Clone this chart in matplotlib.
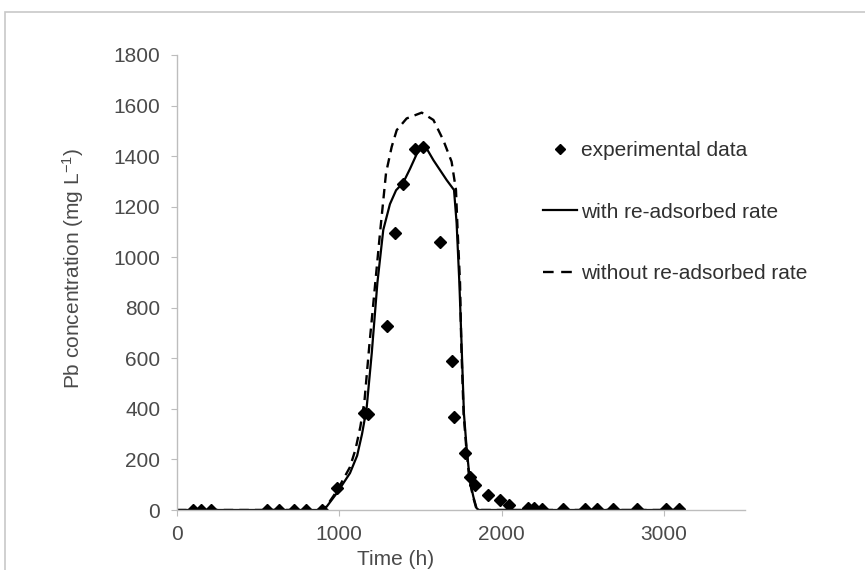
import matplotlib
matplotlib.use("Agg")
import matplotlib.pyplot as plt
from matplotlib.patches import Rectangle
from matplotlib.lines import Line2D

plt.rcParams['font.family'] = ['Liberation Sans', 'DejaVu Sans']
plt.rcParams['mathtext.fontset'] = 'custom'
plt.rcParams['mathtext.rm'] = 'Liberation Sans'
plt.rcParams['mathtext.it'] = 'Liberation Sans:italic'
plt.rcParams['mathtext.bf'] = 'Liberation Sans:bold'

# experimental data
exp_time = [100, 150, 210, 555, 630, 720, 795, 893, 986, 1150, 1180, 1294, 1343, 1393,
            1466, 1516, 1620, 1693, 1707, 1774, 1806, 1836, 1916, 1990, 2046,
            2160, 2200, 2250, 2378, 2514, 2588, 2686, 2834, 3013, 3093]
exp_conc = [0, 0, 0, 0, 0, 0, 0, 0, 87, 385, 378, 728, 1096, 1290,
            1428, 1436, 1060, 590, 368, 225, 130, 99, 59, 40, 20,
            8, 6, 5, 5, 3, 3, 3, 2, 2, 2]

# model: with re-adsorbed rate
with_time = [0, 880, 922, 985, 1066, 1110, 1140, 1168, 1200, 1235, 1271, 1312, 1350, 1394,
             1436, 1477, 1522, 1580, 1662, 1707, 1723, 1740, 1754, 1768, 1784, 1804,
             1826, 1846, 1860, 3100]
with_conc = [0, 0, 13, 67, 146, 215, 300, 400, 620, 900, 1108, 1210, 1265, 1295,
             1350, 1408, 1448, 1384, 1305, 1266, 1135, 898, 646, 382, 250, 119,
             53, 7, 0, 0]

# model: without re-adsorbed rate
without_time = [0, 880, 920, 985, 1066, 1100, 1130, 1155, 1185, 1222, 1251, 1288, 1323, 1354,
                1415, 1508, 1580, 1641, 1692, 1719, 1729, 1744, 1752, 1766, 1782, 1802,
                1824, 1844, 1858, 3100]
without_conc = [0, 0, 14, 75, 170, 240, 330, 430, 650, 900, 1096, 1333, 1437, 1503,
                1549, 1572, 1543, 1463, 1378, 1266, 1108, 898, 646, 382, 250, 119,
                53, 7, 0, 0]

x_ticks = [0, 1000, 2000, 3000]
y_ticks = [0, 200, 400, 600, 800, 1000, 1200, 1400, 1600, 1800]

W, H = 865, 570
FS = 15
fig = plt.figure(figsize=(W / 100, H / 100), dpi=100)
fig.patch.set_facecolor('white')

# outer frame
fig.patches.append(Rectangle((5 / W, -0.1), 1.2, (H - 12) / H + 0.1, transform=fig.transFigure,
                             fill=False, edgecolor='#c8c8c8', linewidth=1.2, zorder=0))

ax = fig.add_axes([177 / W, (H - 510) / H, (745 - 177) / W, (510 - 55) / H])

ax.plot(without_time, without_conc, color='black', linestyle=(0, (4, 2.6)), linewidth=1.7)
ax.plot(with_time, with_conc, color='black', linestyle='-', linewidth=1.6)
ax.plot(exp_time, exp_conc, linestyle='none', marker='D', markersize=6.3, color='black')

ax.set_xlim(0, 3500)
ax.set_ylim(0, 1800)
ax.set_xticks(x_ticks)
ax.set_yticks(y_ticks)

for s in ['top', 'right']:
    ax.spines[s].set_visible(False)
for s in ['left', 'bottom']:
    ax.spines[s].set_color('#bdbdbd')
    ax.spines[s].set_linewidth(1.0)
ax.tick_params(axis='both', colors='#bdbdbd', labelcolor='#4a4a4a', labelsize=FS,
               direction='out', length=4)
ax.tick_params(axis='x', pad=7)
ax.tick_params(axis='y', pad=8)

ax.set_xlabel('Time (h)', fontsize=FS, color='#4a4a4a')
ax.xaxis.set_label_coords((396 - 177) / (745 - 177), (510 - 550) / (510 - 55))
ax.set_ylabel('Pb concentration (mg L$^{-1}$)', fontsize=FS, color='#4a4a4a')
ax.yaxis.set_label_coords((86 - 177) / (745 - 177), 0.53)

handles = [
    Line2D([], [], linestyle='none', marker='D', markersize=5, color='black'),
    Line2D([], [], linestyle='-', color='black', linewidth=1.6),
    Line2D([], [], linestyle=(0, (4.5, 3.2)), color='black', linewidth=1.7),
]
labels = ['experimental data', 'with re-adsorbed rate', 'without re-adsorbed rate']
leg = ax.legend(handles, labels, loc='upper left', bbox_to_anchor=(543 / W, (H - 141) / H),
                bbox_transform=fig.transFigure, frameon=False, fontsize=FS,
                borderpad=0, borderaxespad=0,
                labelspacing=2.05, handlelength=1.63, handletextpad=0.18)
for t in leg.get_texts():
    t.set_color('#303030')

fig.savefig('out.png', dpi=100)
